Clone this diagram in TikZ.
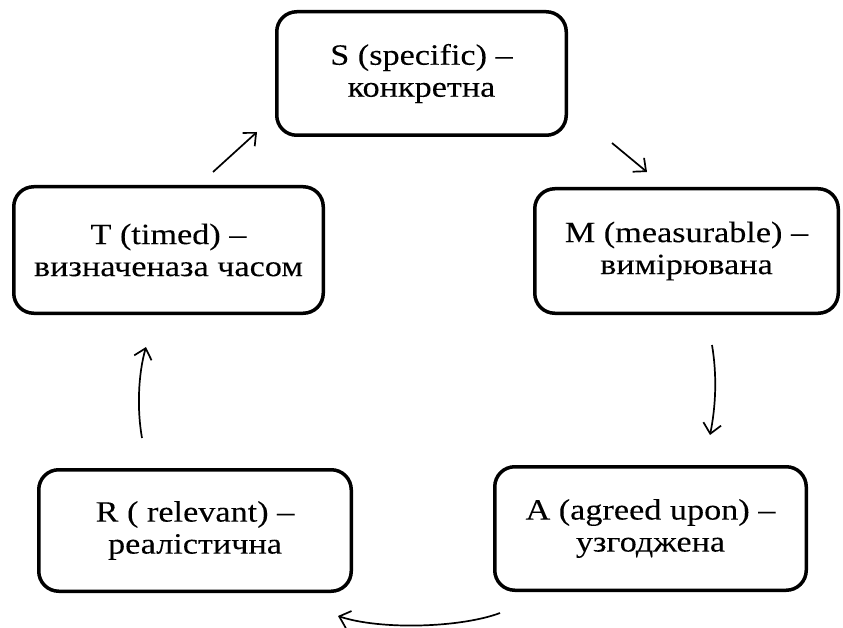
\documentclass[tikz,border=0pt]{standalone}
\usepackage{fontspec}
\setmainfont{Liberation Serif}[FakeStretch=1.16,FakeBold=0.1]
\usetikzlibrary{arrows.meta}
\tikzset{
  smartbox/.style={draw=black, line width=3.5pt, rounded corners=20pt, align=center,
    font=\fontsize{29.5}{32}\selectfont, inner sep=0pt},
  flow/.style={line width=1.7pt, -{Straight Barb[length=10pt,width=18pt,line width=1.7pt]}}
}
\begin{document}
\begin{tikzpicture}[x=1pt,y=-1pt]
\useasboundingbox (0,0) rectangle (843,628);
\node[smartbox, minimum width=289.5pt, minimum height=123.5pt] (S) at (421.5,73.5) {S (specific) –\\конкретна};
\node[smartbox, minimum width=309.5pt, minimum height=126.5pt] (T) at (168.5,250) {T (timed) –\\визначеназа часом};
\node[smartbox, minimum width=303.5pt, minimum height=124.5pt] (M) at (686.5,251) {M (measurable) –\\вимірювана};
\node[smartbox, minimum width=312.5pt, minimum height=121.5pt] (R) at (195,530.5) {R ( relevant) –\\реалістична};
\node[smartbox, minimum width=311.5pt, minimum height=123.5pt] (A) at (650.5,528.5) {A (agreed upon) –\\узгоджена};
\coordinate (ts1) at (213,172);
\coordinate (ts2) at (257,132);
\coordinate (sm1) at (612,143);
\coordinate (sm2) at (647,172);
\coordinate (ma1) at (712,345);
\coordinate (ma2) at (710,435);
\coordinate (ar1) at (500,613);
\coordinate (ar2) at (338,616);
\coordinate (rt1) at (142,438);
\coordinate (rt2) at (146,347);
\draw[flow] (ts1) -- (ts2);
\draw[flow] (sm1) -- (sm2);
\draw[flow] (ma1) .. controls (717,375) and (716,405) .. (ma2);
\draw[flow] (ar1) .. controls (460,628) and (380,630) .. (ar2);
\draw[flow] (rt1) .. controls (137,410) and (138,375) .. (rt2);
\end{tikzpicture}
\end{document}
